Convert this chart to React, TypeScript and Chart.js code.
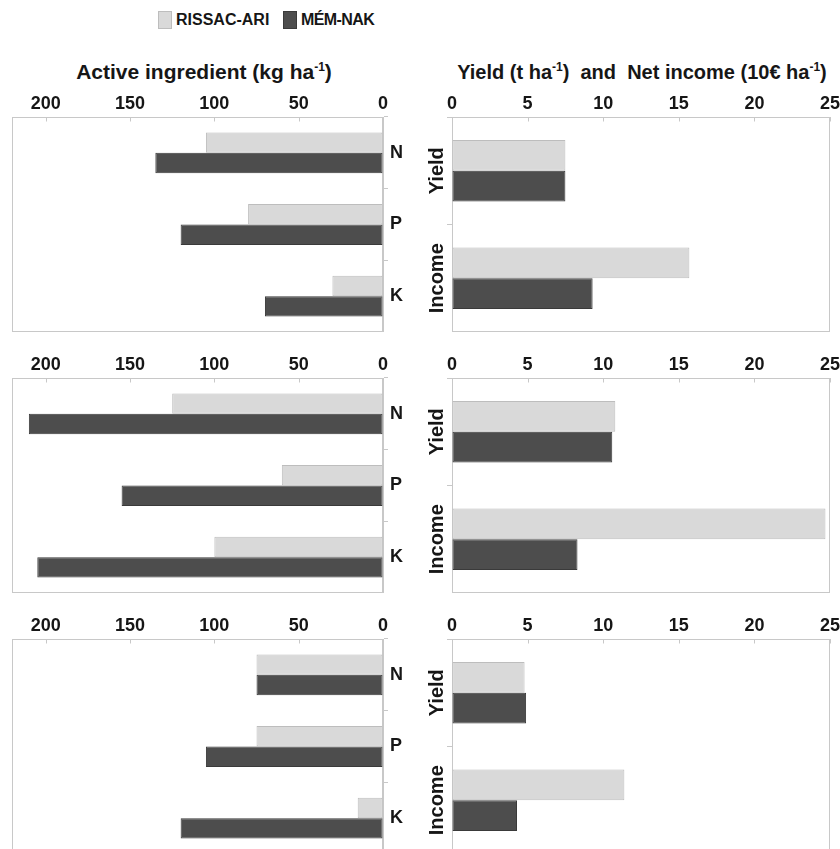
import React, { useEffect, useRef } from 'react';
import { Chart, registerables } from 'chart.js';

Chart.register(...registerables);

// ---- data ----
const SERIES = ['RISSAC-ARI', 'MÉM-NAK'];
const NUTRIENTS = ['N', 'P', 'K'];
const OUTCOMES = ['Yield', 'Income'];

const nutrientTicks = [0, 50, 100, 150, 200];
const outcomeTicks = [0, 5, 10, 15, 20, 25];

const nutrientRissac1 = [105, 80, 30];
const nutrientMemnak1 = [135, 120, 70];
const outcomeRissac1 = [7.5, 15.7];
const outcomeMemnak1 = [7.5, 9.3];

const nutrientRissac2 = [125, 60, 100];
const nutrientMemnak2 = [210, 155, 205];
const outcomeRissac2 = [10.8, 24.7];
const outcomeMemnak2 = [10.6, 8.3];

const nutrientRissac3 = [75, 75, 15];
const nutrientMemnak3 = [75, 105, 120];
const outcomeRissac3 = [4.8, 11.4];
const outcomeMemnak3 = [4.9, 4.3];

// ---- styles ----
const FONT_FAMILY = '"Liberation Sans", Arial, sans-serif';
const TEXT_COLOR = '#161616';
const AXIS_COLOR = '#c8c8c8';
const LIGHT = '#d9d9d9';
const LIGHT_BORDER = '#bdbdbd';
const DARK = '#4d4d4d';
const DARK_BORDER = '#3a3a3a';

const PLOT_TOPS = [117, 378, 639];
const PLOT_H = 215;
const AXIS_H = 45;

const framePlugin = {
  id: 'frame',
  beforeDatasetsDraw(chart: any) {
    const { ctx, chartArea } = chart;
    const l = Math.round(chartArea.left) + 0.5;
    const t = Math.round(chartArea.top) + 0.5;
    const r = Math.round(chartArea.right) - 0.5;
    const b = Math.round(chartArea.bottom) - 0.5;
    ctx.save();
    ctx.strokeStyle = AXIS_COLOR;
    ctx.lineWidth = 1;
    ctx.strokeRect(l, t, r - l, b - t);
    // inward tick marks on the top value axis
    const xs = chart.scales.x;
    ctx.beginPath();
    xs.ticks.forEach((tk: any) => {
      const px = Math.round(xs.getPixelForValue(tk.value)) + 0.5;
      ctx.moveTo(px, t);
      ctx.lineTo(px, t + 4);
    });
    ctx.stroke();
    ctx.restore();
  },
};

const sideLabelPlugin = {
  id: 'sideLabels',
  afterDraw(chart: any) {
    const { ctx, chartArea } = chart;
    const ys = chart.scales.y;
    ctx.save();
    ctx.font = `bold 20px ${FONT_FAMILY}`;
    ctx.fillStyle = TEXT_COLOR;
    ctx.textAlign = 'center';
    ctx.textBaseline = 'middle';
    (chart.data.labels as string[]).forEach((lab, i) => {
      const py = ys.getPixelForValue(i);
      ctx.save();
      ctx.translate(chartArea.left - 15, py);
      ctx.rotate(-Math.PI / 2);
      ctx.fillText(lab, 0, 0);
      ctx.restore();
    });
    ctx.restore();
  },
};

function datasets(light: number[], dark: number[]) {
  const common = { borderWidth: 1, borderSkipped: false, categoryPercentage: 0.57, barPercentage: 1 };
  return [
    { label: SERIES[0], data: light, backgroundColor: LIGHT, borderColor: LIGHT_BORDER, ...common },
    { label: SERIES[1], data: dark, backgroundColor: DARK, borderColor: DARK_BORDER, ...common },
  ];
}

const tickFont = { family: FONT_FAMILY, size: 18, weight: 'bold' as const };

function makeConfig(kind: 'nutrient' | 'outcome', light: number[], dark: number[]): any {
  const isN = kind === 'nutrient';
  const tickValues = isN ? nutrientTicks : outcomeTicks;
  return {
    type: 'bar',
    data: { labels: isN ? NUTRIENTS : OUTCOMES, datasets: datasets(light, dark) },
    options: {
      indexAxis: 'y',
      responsive: false,
      animation: false,
      layout: { padding: isN ? { left: 12, right: 0, top: 0, bottom: 0 } : { left: 0, right: 10, top: 0, bottom: 0 } },
      plugins: { legend: { display: false }, tooltip: { enabled: false } },
      scales: {
        x: {
          type: 'linear',
          position: 'top',
          reverse: isN,
          min: 0,
          max: isN ? 220 : 25,
          afterBuildTicks: (s: any) => {
            s.ticks = tickValues.map((v) => ({ value: v }));
          },
          afterFit: (s: any) => {
            s.height = AXIS_H;
            s.paddingLeft = 0;
            s.paddingRight = 0;
            s.paddingTop = 0;
            s.paddingBottom = 0;
          },
          ticks: { font: tickFont, color: TEXT_COLOR, padding: 2, maxRotation: 0, autoSkip: false },
          grid: { drawOnChartArea: false, drawTicks: false },
          border: { color: AXIS_COLOR },
        },
        y: {
          type: 'category',
          position: isN ? 'right' : 'left',
          afterFit: (s: any) => {
            s.width = isN ? 37 : 52;
            s.paddingTop = 0;
            s.paddingBottom = 0;
            s.paddingLeft = 0;
            s.paddingRight = 0;
          },
          ticks: { display: isN, font: tickFont, color: TEXT_COLOR, padding: 2 },
          grid: { drawOnChartArea: false, drawTicks: true, tickLength: 5, color: AXIS_COLOR },
          border: { color: AXIS_COLOR },
        },
      },
    },
    plugins: isN ? [framePlugin] : [framePlugin, sideLabelPlugin],
  };
}

function Panel(props: { kind: 'nutrient' | 'outcome'; light: number[]; dark: number[]; row: number }) {
  const ref = useRef<HTMLCanvasElement>(null);
  const { kind, light, dark, row } = props;
  useEffect(() => {
    const chart = new Chart(ref.current as HTMLCanvasElement, makeConfig(kind, light, dark));
    return () => chart.destroy();
  }, [kind, light, dark]);
  const isN = kind === 'nutrient';
  const w = isN ? 420 : 440;
  const h = AXIS_H + PLOT_H;
  return (
    <canvas
      ref={ref}
      width={w}
      height={h}
      style={{ position: 'absolute', left: isN ? 0 : 400, top: PLOT_TOPS[row] - AXIS_H, width: w, height: h }}
    />
  );
}

const titleStyle: React.CSSProperties = {
  position: 'absolute',
  top: 60,
  height: 24,
  lineHeight: '24px',
  fontFamily: FONT_FAMILY,
  fontWeight: 'bold',
  fontSize: 20,
  color: TEXT_COLOR,
  textAlign: 'center',
  whiteSpace: 'nowrap',
};

const supStyle: React.CSSProperties = { fontSize: 12, verticalAlign: 'top', lineHeight: '14px' };

const legendText: React.CSSProperties = {
  position: 'absolute',
  top: 10,
  lineHeight: '20px',
  fontSize: 16,
  fontWeight: 'bold',
  color: TEXT_COLOR,
  whiteSpace: 'nowrap',
};

export default function App() {
  return (
    <div
      style={{
        position: 'absolute',
        left: 0,
        top: 0,
        width: 840,
        height: 849,
        overflow: 'hidden',
        background: '#fff',
        fontFamily: FONT_FAMILY,
      }}
    >
      {/* legend */}
      <div style={{ position: 'absolute', left: 158, top: 11, width: 14, height: 18, background: LIGHT, border: `1px solid ${LIGHT_BORDER}`, boxSizing: 'border-box' }} />
      <div style={{ ...legendText, left: 176 }}>{SERIES[0]}</div>
      <div style={{ position: 'absolute', left: 283, top: 11, width: 14, height: 18, background: DARK, border: `1px solid ${DARK_BORDER}`, boxSizing: 'border-box' }} />
      <div style={{ ...legendText, left: 301, letterSpacing: -0.6 }}>{SERIES[1]}</div>

      {/* column titles */}
      <div style={{ ...titleStyle, left: 54, width: 300, fontSize: 21 }}>
        Active ingredient (kg ha<span style={supStyle}>-1</span>)
      </div>
      <div style={{ ...titleStyle, left: 442, width: 400 }}>
        Yield (t ha<span style={supStyle}>-1</span>)&nbsp; and&nbsp; Net income (10€ ha<span style={supStyle}>-1</span>)
      </div>

      <Panel kind="nutrient" light={nutrientRissac1} dark={nutrientMemnak1} row={0} />
      <Panel kind="outcome" light={outcomeRissac1} dark={outcomeMemnak1} row={0} />
      <Panel kind="nutrient" light={nutrientRissac2} dark={nutrientMemnak2} row={1} />
      <Panel kind="outcome" light={outcomeRissac2} dark={outcomeMemnak2} row={1} />
      <Panel kind="nutrient" light={nutrientRissac3} dark={nutrientMemnak3} row={2} />
      <Panel kind="outcome" light={outcomeRissac3} dark={outcomeMemnak3} row={2} />
    </div>
  );
}
